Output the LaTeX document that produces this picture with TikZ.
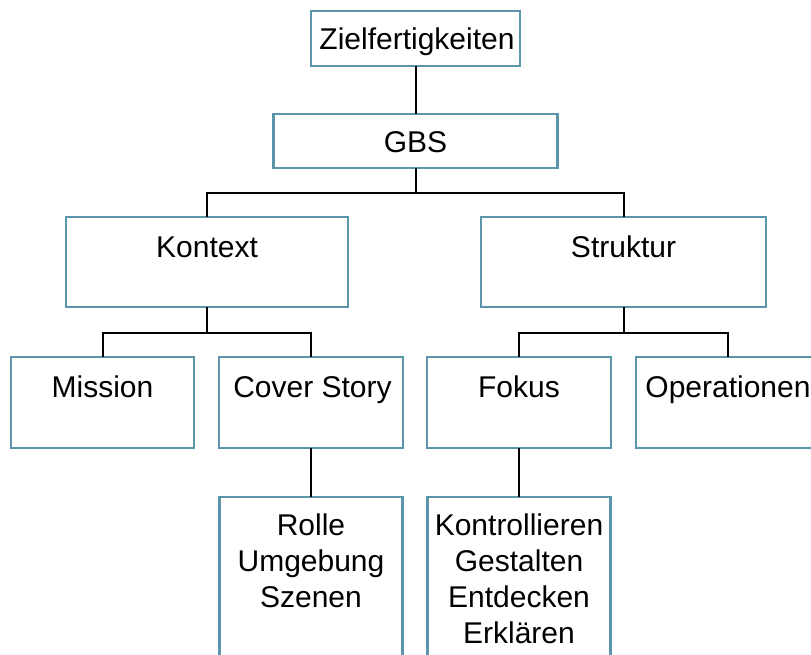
\documentclass[tikz,border=0pt]{standalone}
\usepackage{fontspec}
\setmainfont{Liberation Sans}
\definecolor{boxblue}{HTML}{5B95AB}
\newcommand{\mylines}[1]{\setlength{\tabcolsep}{0pt}\begin{tabular}[t]{c}#1\end{tabular}}
\begin{document}
\begin{tikzpicture}[x=1pt,y=-1pt,
  box/.style={draw=boxblue,line width=2.5pt,rectangle,inner sep=0pt,outer sep=0pt},
  lbl/.style={anchor=base,inner sep=0pt,font=\fontsize{30}{36}\selectfont},
  conn/.style={draw=black,line width=2pt}]
\clip (0,0) rectangle (811,655);
\fill[white] (0,0) rectangle (811,655);
% boxes
\node[box,minimum width=209pt,minimum height=55pt] (ziel) at (415.5,38.5) {};
\node[box,minimum width=284pt,minimum height=54pt] (gbs) at (415.5,141) {};
\node[box,minimum width=282pt,minimum height=90pt] (kontext) at (207,262) {};
\node[box,minimum width=285pt,minimum height=90pt] (struktur) at (623.5,262) {};
\node[box,minimum width=183pt,minimum height=91pt] (mission) at (102.5,402.5) {};
\node[box,minimum width=184pt,minimum height=91pt] (cover) at (311,402.5) {};
\node[box,minimum width=184pt,minimum height=91pt] (fokus) at (519,402.5) {};
\node[box,minimum width=184pt,minimum height=91pt] (oper) at (728,402.5) {};
\node[box,minimum width=183pt,minimum height=203pt] (rolle) at (311,598.5) {};
\node[box,minimum width=183pt,minimum height=203pt] (kontr) at (519,598.5) {};
% labels
\node[lbl] (tziel) at ([xshift=1.5pt,yshift=-39pt]ziel.north) {Zielfertigkeiten};
\node[lbl] (tgbs) at ([yshift=-39pt]gbs.north) {GBS};
\node[lbl] (tkontext) at ([yshift=-40pt]kontext.north) {Kontext};
\node[lbl] (tstruktur) at ([yshift=-40pt]struktur.north) {Struktur};
\node[lbl] (tmission) at ([yshift=-40pt]mission.north) {Mission};
\node[lbl] (tcover) at ([xshift=1.5pt,yshift=-40pt]cover.north) {Cover Story};
\node[lbl] (tfokus) at ([yshift=-40pt]fokus.north) {Fokus};
\node[lbl] (toper) at ([yshift=-40pt]oper.north) {Operationen};
\node[lbl] (trolle) at ([yshift=-38pt]rolle.north) {\mylines{Rolle\\Umgebung\\Szenen}};
\node[lbl] (tkontr) at ([yshift=-38pt]kontr.north) {\mylines{Kontrollieren\\Gestalten\\Entdecken\\Erklären}};
% connectors
\coordinate (b1) at (415.5,193);
\coordinate (b2) at (207,333);
\coordinate (b3) at (623.5,333);
\draw[conn] (ziel.south) -- (gbs.north);
\draw[conn] (gbs.south) -- (b1);
\draw[conn] (kontext.north) |- (b1) -| (struktur.north);
\draw[conn] (kontext.south) -- (b2);
\draw[conn] (mission.north) |- (b2) -| (cover.north);
\draw[conn] (struktur.south) -- (b3);
\draw[conn] (fokus.north) |- (b3) -| (oper.north);
\draw[conn] (cover.south) -- (rolle.north);
\draw[conn] (fokus.south) -- (kontr.north);
\end{tikzpicture}
\end{document}
